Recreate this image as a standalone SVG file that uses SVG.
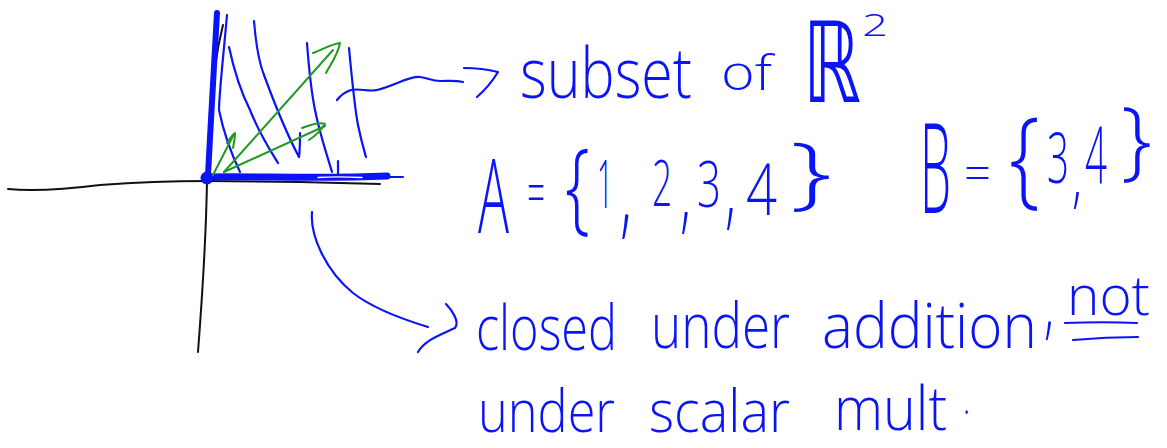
<svg xmlns="http://www.w3.org/2000/svg" width="1167" height="448" viewBox="0 0 1167 448">
<style>
.ink{fill:none;stroke:#0a14f5;stroke-width:2.2;stroke-linecap:round;stroke-linejoin:round}
.ax{fill:none;stroke:#111;stroke-width:2;stroke-linecap:round}
.gr{fill:none;stroke:#1f9a1f;stroke-width:2;stroke-linecap:round;stroke-linejoin:round}
.t{fill:#0a14f5;font-family:"Open Sans","Liberation Sans",sans-serif;font-weight:300}
.m{font-family:"DejaVu Sans","Liberation Sans",sans-serif;font-weight:normal}
</style>
<rect width="1167" height="448" fill="#fff"/>
<g id="axes">
<path class="ax" d="M8,189 C30,191 60,190 100,185 C140,182 180,181 207,181 L300,182 L380,184"/>
<path class="ax" d="M223,25 C218,45 213,70 211,110 C209,140 207,160 207,181 C206,240 202,300 198,352"/>
</g>
<g id="hatching">
<path class="ink" d="M227,15 C223,60 219,95 219,110 C224,135 232,155 240,172"/>
<path class="ink" d="M229,47 C235,75 244,98 250,110 C260,135 270,150 278,163"/>
<path class="ink" d="M254,21 C256,45 260,65 264,75 C275,105 290,140 299,157 C300,150 300,140 300,133"/>
<path class="ink" d="M307,43 C309,70 312,95 315,110 C320,135 327,155 332,172"/>
<path class="ink" d="M338,161 L338,176"/>
<path class="ink" d="M349,48 C352,80 355,110 358,125 C361,140 364,150 366,157"/>
</g>
<g id="region-boundary">
<path fill="none" stroke="#0a14f5" stroke-width="6" stroke-linecap="round" d="M217,13 C214,60 211,120 208,175"/>
<path fill="none" stroke="#0a14f5" stroke-width="7" stroke-linecap="round" d="M207,177 C260,176 320,179 387,176"/>
<path class="ink" d="M380,177 L403,177"/>
<path fill="none" stroke="#fff" stroke-width="1.3" stroke-linecap="round" d="M318,177.5 C335,176.5 350,177 362,177.5"/>
<circle cx="207" cy="178" r="6.5" fill="#0a14f5"/>
</g>
<g id="vectors">
<path class="gr" d="M224,172 L333,50"/>
<path class="gr" d="M313,53 C325,48 335,43 340,43 C338,55 330,65 326,73"/>
<path class="gr" d="M224,172 L325,126"/>
<path class="gr" d="M302,128 C312,124 320,122 325,124 C320,132 315,136 309,140"/>
<path class="gr" d="M213,175 L234,134"/>
<path class="gr" d="M227,143 C230,138 232,135 235,133 C235,138 234,143 233,148"/>
</g>
<g id="connectors">
<path class="ink" d="M337,100 C340,96 345,92 351,90 C360,88 368,92 377,90 C395,86 408,76 420,77 C428,78 432,81 440,81 C450,81 455,80 463,82"/>
<path class="ink" d="M464,68 C475,68 490,70 498,72 C492,82 485,90 477,97"/>
<path class="ink" d="M312,212 C310,235 325,270 353,293 C375,310 405,320 428,327"/>
<path class="ink" d="M446,304 C452,310 460,322 455,328 C440,335 425,340 418,352"/>
</g>
<g id="label-subset">
<text class="t" x="520" y="98" font-size="70" textLength="172" lengthAdjust="spacingAndGlyphs">subset</text>
<text class="t" x="721" y="90" font-size="48" textLength="51" lengthAdjust="spacingAndGlyphs">of</text>
<text class="t"><tspan class="m" x="803" y="102" font-size="112" textLength="58" lengthAdjust="spacingAndGlyphs">ℝ</tspan><tspan x="862" y="36" font-size="32" textLength="26" lengthAdjust="spacingAndGlyphs">2</tspan></text>
</g>
<g id="label-A">
<text class="t"><tspan x="478" y="233" font-size="104" textLength="31" lengthAdjust="spacingAndGlyphs">A</tspan><tspan x="527" y="214" font-size="60" textLength="18" lengthAdjust="spacingAndGlyphs">=</tspan><tspan x="565" y="221" font-size="102" textLength="25" lengthAdjust="spacingAndGlyphs">{</tspan><tspan x="597" y="208" font-size="67" textLength="16" lengthAdjust="spacingAndGlyphs">1</tspan><tspan x="620" y="226" font-size="100" textLength="12" lengthAdjust="spacingAndGlyphs">,</tspan><tspan x="652" y="206" font-size="64" textLength="20" lengthAdjust="spacingAndGlyphs">2</tspan><tspan x="680" y="222" font-size="90" textLength="11" lengthAdjust="spacingAndGlyphs">,</tspan><tspan x="697" y="207" font-size="64" textLength="24" lengthAdjust="spacingAndGlyphs">3</tspan><tspan x="725" y="218" font-size="90" textLength="11" lengthAdjust="spacingAndGlyphs">,</tspan><tspan x="746" y="215" font-size="72" textLength="31" lengthAdjust="spacingAndGlyphs">4</tspan><tspan x="790" y="199" font-size="80" textLength="42" lengthAdjust="spacingAndGlyphs">}</tspan></text>
</g>
<g id="label-B">
<text class="t"><tspan x="920" y="213" font-size="125" textLength="31" lengthAdjust="spacingAndGlyphs">B</tspan><tspan x="964" y="191" font-size="50" textLength="27" lengthAdjust="spacingAndGlyphs">=</tspan><tspan x="1009" y="194" font-size="107" textLength="31" lengthAdjust="spacingAndGlyphs">{</tspan><tspan x="1047" y="183" font-size="70" textLength="22" lengthAdjust="spacingAndGlyphs">3</tspan><tspan x="1072" y="200" font-size="70" textLength="10" lengthAdjust="spacingAndGlyphs">,</tspan><tspan x="1085" y="183" font-size="80" textLength="22" lengthAdjust="spacingAndGlyphs">4</tspan><tspan x="1121" y="169" font-size="87" textLength="31" lengthAdjust="spacingAndGlyphs">}</tspan></text>
</g>
<g id="label-closed">
<text class="t" x="476" y="350" font-size="62" textLength="141" lengthAdjust="spacingAndGlyphs">closed</text>
<text class="t" x="651" y="348" font-size="62" textLength="139" lengthAdjust="spacingAndGlyphs">under</text>
<text class="t"><tspan x="822" y="348" font-size="62" textLength="215" lengthAdjust="spacingAndGlyphs">addition</tspan><tspan x="1044" y="330" font-size="76" textLength="10" lengthAdjust="spacingAndGlyphs">,</tspan><tspan x="1067" y="315" font-size="56" textLength="83" lengthAdjust="spacingAndGlyphs">not</tspan></text>
<path class="ink" d="M1065,323 C1090,322 1115,322 1137,323"/>
<path class="ink" d="M1073,340 C1095,338 1118,337 1138,337"/>
<text class="t" x="478" y="432" font-size="58" textLength="137" lengthAdjust="spacingAndGlyphs">under</text>
<text class="t" x="649" y="432" font-size="58" textLength="141" lengthAdjust="spacingAndGlyphs">scalar</text>
<text class="t"><tspan x="834" y="430" font-size="60" textLength="113" lengthAdjust="spacingAndGlyphs">mult</tspan><tspan x="963" y="414" font-size="40" textLength="7" lengthAdjust="spacingAndGlyphs">.</tspan></text>
</g>
</svg>
